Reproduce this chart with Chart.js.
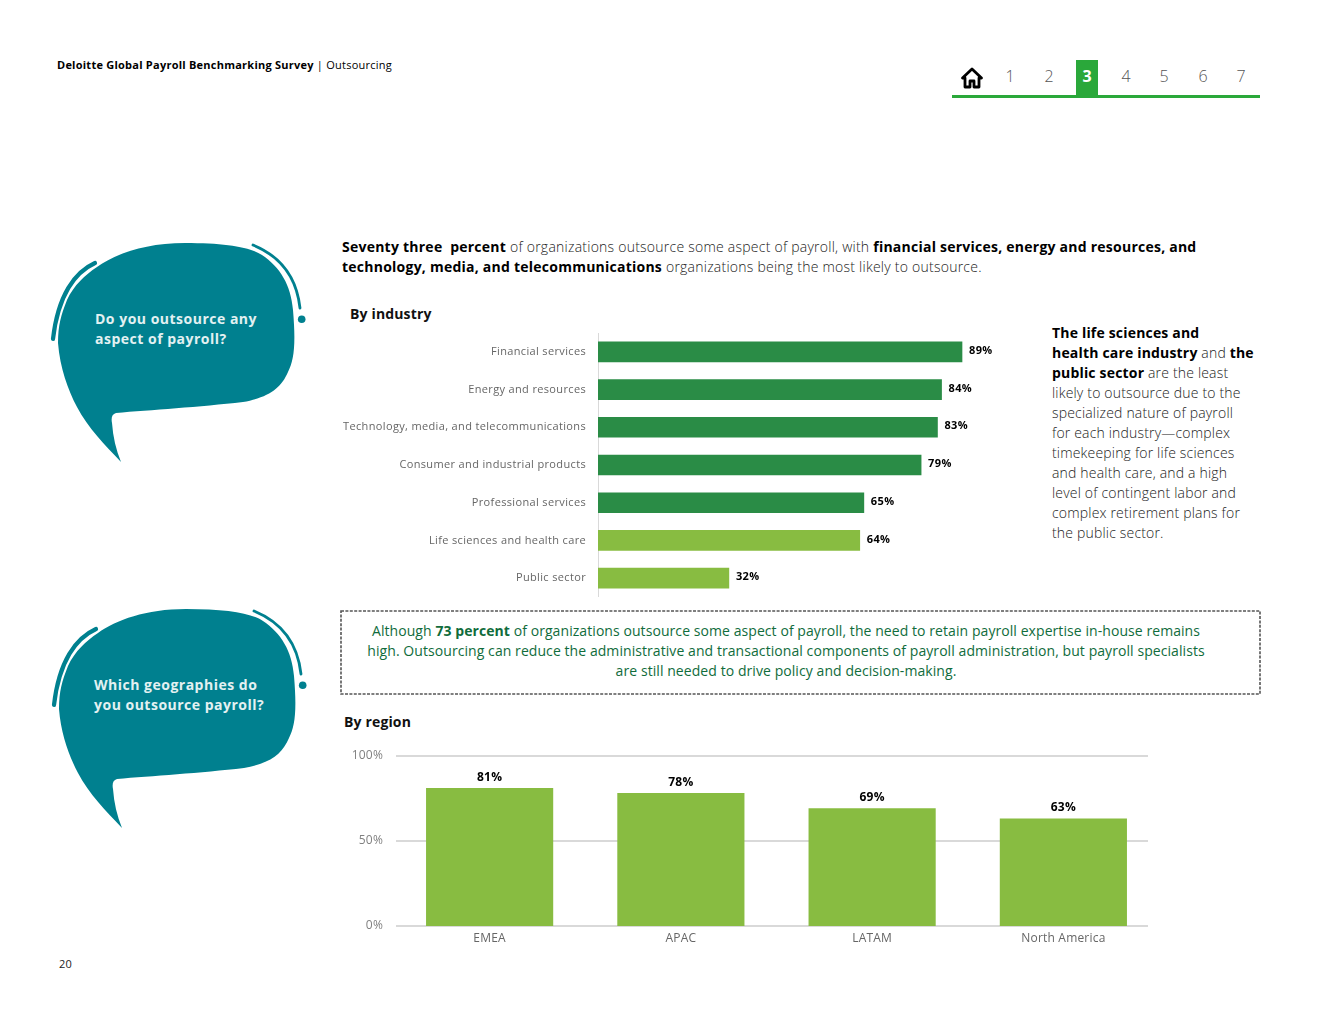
<!DOCTYPE html>
<html><head><meta charset="utf-8">
<script src="https://cdn.jsdelivr.net/npm/chart.js@4"></script>
<style>
html,body{margin:0;padding:0;background:#fff;font-family:"Open Sans",sans-serif;}
#page{position:relative;width:1320px;height:1020px;overflow:hidden;}
.t{position:absolute;white-space:nowrap;line-height:20px;}
b{font-weight:700;}
canvas{position:absolute;display:block;}
.body{font-size:14px;font-weight:300;color:#222;letter-spacing:.24px;}
.side{letter-spacing:.18px;}
.body b{color:#000;}
.nav{position:absolute;top:64px;width:30px;text-align:center;font-size:16px;line-height:24px;font-weight:300;color:#555;}
.q{font-size:14px;font-weight:700;color:#e3f1f2;letter-spacing:.5px;}
.h{font-size:14px;font-weight:700;color:#111;letter-spacing:.15px;}
.g{font-size:14px;color:#106c3c;width:920px;left:326px;text-align:center;letter-spacing:.07px;}
</style></head><body><div id="page">

<div class="t" style="left:57px;top:55px;font-size:11px;color:#000;letter-spacing:.24px"><b>Deloitte Global Payroll Benchmarking Survey</b> | Outsourcing</div>

<svg style="position:absolute;left:960px;top:66px" width="24" height="24" viewBox="0 0 24 24"><path d="M12 3 L2.5 12 H5 V21 H10 V15 H14 V21 H19 V12 H21.5 Z" fill="none" stroke="#000" stroke-width="2.8" stroke-linejoin="round"/></svg>
<div style="position:absolute;left:1076px;top:60px;width:22px;height:36px;background:#2aa83a"></div>
<div style="position:absolute;left:952px;top:95px;width:308px;height:3px;background:#2aa83a"></div>
<div class="nav" style="left:995px">1</div>
<div class="nav" style="left:1034px">2</div>
<div class="nav" style="left:1072px;color:#fff;font-weight:700">3</div>
<div class="nav" style="left:1111px">4</div>
<div class="nav" style="left:1149px">5</div>
<div class="nav" style="left:1188px">6</div>
<div class="nav" style="left:1226px">7</div>

<svg style="position:absolute;left:0;top:0" width="320" height="840">
 <defs><g id="bub">
  <path d="M121 462 C105 445 88 428 77 407 C68 390 60 368 58 343 C58 325 61 315 67 300 C74 285 85 275 97 267 C115 254 145 243 185 243 C225 243 250 247 262 255 C280 267 291 285 293 310 C296 345 294 360 288 372 C281 388 270 397 243 402 C200 407 150 410 116 413 C112 414 111 418 112 423 C113 437 116 450 121 462 Z" fill="#00808f"/>
  <path d="M95 263 C75 272 58 295 53 339" fill="none" stroke="#00808f" stroke-width="4.2" stroke-linecap="round"/>
  <path d="M253 245 C275 254 296 272 300 308" fill="none" stroke="#00808f" stroke-width="2.8" stroke-linecap="round"/>
  <circle cx="301.700" cy="319.300" r="3.800" fill="#00808f"/>
 </g></defs>
 <use href="#bub"/>
 <use href="#bub" x="1" y="366"/>
</svg>
<div class="t q" style="left:95px;top:309px">Do you outsource any</div>
<div class="t q" style="left:95px;top:329px">aspect of payroll?</div>
<div class="t q" style="left:94px;top:675px">Which geographies do</div>
<div class="t q" style="left:94px;top:695px">you outsource payroll?</div>

<div class="t body" style="left:342px;top:237px"><b>Seventy three&nbsp; percent</b> of organizations outsource some aspect of payroll, with <b>financial services, energy and resources, and</b></div>
<div class="t body" style="left:342px;top:257px"><b>technology, media, and telecommunications</b> organizations being the most likely to outsource.</div>

<div class="t h" style="left:350px;top:304px">By industry</div>
<canvas id="c1" width="667" height="264" style="left:340px;top:333px"></canvas>

<div class="t body side" style="left:1052px;top:323px"><b>The life sciences and</b></div>
<div class="t body side" style="left:1052px;top:343px"><b>health care industry</b> and <b>the</b></div>
<div class="t body side" style="left:1052px;top:363px"><b>public sector</b> are the least</div>
<div class="t body side" style="left:1052px;top:383px">likely to outsource due to the</div>
<div class="t body side" style="left:1052px;top:403px">specialized nature of payroll</div>
<div class="t body side" style="left:1052px;top:423px">for each industry—complex</div>
<div class="t body side" style="left:1052px;top:443px">timekeeping for life sciences</div>
<div class="t body side" style="left:1052px;top:463px">and health care, and a high</div>
<div class="t body side" style="left:1052px;top:483px">level of contingent labor and</div>
<div class="t body side" style="left:1052px;top:503px">complex retirement plans for</div>
<div class="t body side" style="left:1052px;top:523px">the public sector.</div>

<svg style="position:absolute;left:338px;top:608px" width="926" height="90"><rect x="3" y="3" width="919" height="83" fill="none" stroke="#555" stroke-width="1.6" stroke-dasharray="3 1.4"/></svg>
<div class="t g" style="top:621px">Although <b>73 percent</b> of organizations outsource some aspect of payroll, the need to retain payroll expertise in-house remains</div>
<div class="t g" style="top:641px">high. Outsourcing can reduce the administrative and transactional components of payroll administration, but payroll specialists</div>
<div class="t g" style="top:661px">are still needed to drive policy and decision-making.</div>

<div class="t h" style="left:344px;top:712px">By region</div>
<canvas id="c2" width="819" height="212" style="left:340px;top:740px"></canvas>

<div class="t" style="left:59px;top:954px;font-size:11px;color:#222;letter-spacing:.3px">20</div>
</div>
<script>
const industryLabels = ["Financial services","Energy and resources","Technology, media, and telecommunications","Consumer and industrial products","Professional services","Life sciences and health care","Public sector"];
const industryValues = [89,84,83,79,65,64,32];
const industryColors = ["#2a8c46","#2a8c46","#2a8c46","#2a8c46","#2a8c46","#88bc41","#88bc41"];
const regionLabels = ["EMEA","APAC","LATAM","North America"];
const regionValues = [81,78,69,63];
const regionTicks = [0,50,100];
const FONT = '"Open Sans", sans-serif';

const spacing = px => ({ id:'spacing', beforeDraw(c){ c.ctx.letterSpacing = px; } });
const noPad = s => { s.paddingTop=0; s.paddingBottom=0; s.paddingLeft=0; s.paddingRight=0; };

const valueLabels = (font, dx, dy) => ({
  id:'valueLabels',
  afterDatasetsDraw(c){
    const ctx=c.ctx, meta=c.getDatasetMeta(0);
    ctx.save();
    ctx.font=font; ctx.fillStyle='#000';
    const horizontal=c.options.indexAxis==='y';
    ctx.textAlign=horizontal?'left':'center';
    ctx.textBaseline='middle';
    meta.data.forEach((el,i)=>ctx.fillText(c.data.datasets[0].data[i]+'%', el.x+dx, el.y+dy));
    ctx.restore();
  }
});

const gridLines = {
  id:'gridLines',
  beforeDatasetsDraw(c){
    const ctx=c.ctx, y=c.scales.y;
    ctx.save();
    ctx.strokeStyle='#d9d9d9'; ctx.lineWidth=2;
    regionTicks.forEach(v=>{
      const p=y.getPixelForValue(v);
      ctx.beginPath(); ctx.moveTo(396-340,p); ctx.lineTo(1148-340,p); ctx.stroke();
    });
    ctx.restore();
  }
};

new Chart(document.getElementById('c1'),{
  type:'bar',
  data:{labels:industryLabels,datasets:[{data:industryValues,backgroundColor:industryColors,barThickness:20}]},
  plugins:[spacing('0.35px'),valueLabels('700 11px '+FONT,7,-1)],
  options:{
    indexAxis:'y',responsive:false,animation:false,
    layout:{padding:0,autoPadding:false},
    plugins:{legend:{display:false},tooltip:{enabled:false}},
    scales:{
      x:{display:false,min:0,max:100},
      y:{
        afterFit(s){s.width=258;noPad(s);},
        grid:{display:false,drawTicks:false},
        border:{display:true,color:'#d9d9d9',width:1},
        ticks:{padding:12,autoSkip:false,color:'#666',font:{family:FONT,size:11}}
      }
    }
  }
});

new Chart(document.getElementById('c2'),{
  type:'bar',
  data:{labels:regionLabels,datasets:[{data:regionValues,backgroundColor:'#88bc41',barThickness:126.5}]},
  plugins:[spacing('0.2px'),gridLines,valueLabels('700 12px '+FONT,0,-11)],
  options:{
    responsive:false,animation:false,
    layout:{padding:{top:16},autoPadding:false},
    plugins:{legend:{display:false},tooltip:{enabled:false}},
    scales:{
      x:{
        afterFit(s){s.height=26;noPad(s);},
        grid:{display:false,drawTicks:false},border:{display:false},
        ticks:{padding:5,color:'#666',font:{family:FONT,size:12},maxRotation:0}
      },
      y:{
        min:0,max:100,
        afterFit(s){s.width=54;noPad(s);},
        afterBuildTicks(s){s.ticks=regionTicks.map(v=>({value:v}));},
        grid:{display:false,drawTicks:false},border:{display:false},
        ticks:{padding:11,color:'#808080',font:{family:FONT,size:12},callback:v=>v+'%'}
      }
    }
  }
});
</script>
</body></html>
